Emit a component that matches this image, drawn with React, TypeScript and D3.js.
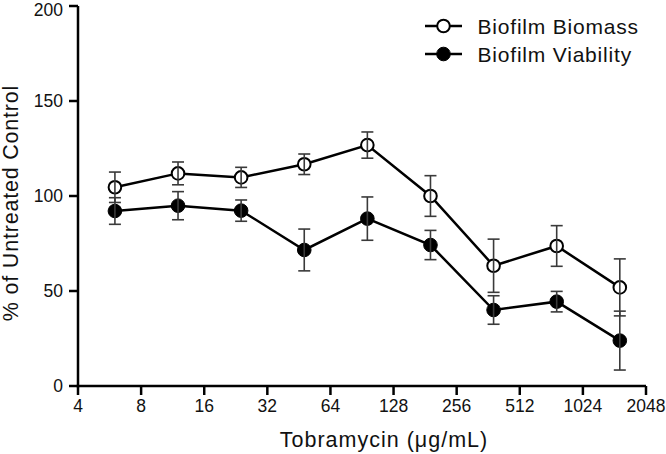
import React from "react";
import * as d3 from "d3";

const concentrations = [6, 12, 24, 48, 96, 192, 384, 768, 1536];
const biomass = [104.6, 111.9, 109.8, 116.7, 126.8, 100, 63.3, 73.7, 51.9];
const biomassErr = [8, 6, 5.3, 5.4, 6.9, 10.7, 14, 10.7, 15];
const viability = [92.1, 94.9, 92.3, 71.6, 88.1, 74.2, 40, 44.4, 23.9];
const viabilityErr = [7, 7.4, 5.6, 11, 11.4, 7.7, 7.5, 5.4, 15.5];
const xTicks = [4, 8, 16, 32, 64, 128, 256, 512, 1024, 2048];
const yTicks = [0, 50, 100, 150, 200];
const seriesNames = ["Biofilm Biomass", "Biofilm Viability"];

const W = 666;
const H = 454;
const FONT = "'Liberation Sans', Arial, Helvetica, sans-serif";

export default function App() {
  const x = d3.scaleLog().base(2).domain([4, 2048]).range([78, 646]);
  const y = d3.scaleLinear().domain([0, 200]).range([386, 6]);
  const line = d3
    .line<[number, number]>()
    .x((d) => x(d[0]))
    .y((d) => y(d[1]));

  const series = [
    { name: seriesNames[0], values: biomass, err: biomassErr, filled: false },
    { name: seriesNames[1], values: viability, err: viabilityErr, filled: true },
  ];

  const x0 = x.range()[0];
  const x1 = x.range()[1];
  const y0 = y.range()[0];
  const y1 = y.range()[1];

  return (
    <svg
      width={W}
      height={H}
      style={{ position: "absolute", left: 0, top: 0, background: "#fff" }}
      fontFamily={FONT}
    >
      <rect x={0} y={0} width={W} height={H} fill="#fff" />
      {series.map((s) => (
        <path
          key={"l" + s.name}
          d={line(concentrations.map((c, i) => [c, s.values[i]]) as [number, number][]) || ""}
          fill="none"
          stroke="#000"
          strokeWidth={2.5}
        />
      ))}
      {series.map((s) =>
        concentrations.map((c, i) => (
          <circle
            key={"m" + s.name + i}
            cx={x(c)}
            cy={y(s.values[i])}
            r={s.filled ? 6.8 : 6.3}
            fill={s.filled ? "#000" : "#fff"}
            stroke="#000"
            strokeWidth={s.filled ? 1 : 2}
          />
        ))
      )}
      {series.map((s) =>
        concentrations.map((c, i) => {
          const cx = x(c);
          const top = y(s.values[i] + s.err[i]);
          const bot = y(s.values[i] - s.err[i]);
          return (
            <g key={"e" + s.name + i} stroke="#3a3a3a" strokeWidth={1.6}>
              <line x1={cx} x2={cx} y1={top} y2={bot} />
              <line x1={cx - 6} x2={cx + 6} y1={top} y2={top} />
              <line x1={cx - 6} x2={cx + 6} y1={bot} y2={bot} />
            </g>
          );
        })
      )}
      <line x1={x0} x2={x0} y1={y1} y2={y0 + 1.25} stroke="#000" strokeWidth={2.5} />
      <line x1={x0 - 1.25} x2={x1} y1={y0} y2={y0} stroke="#000" strokeWidth={2.5} />
      {yTicks.map((t) => (
        <g key={"yt" + t}>
          <line x1={x0 - 9} x2={x0} y1={y(t)} y2={y(t)} stroke="#000" strokeWidth={2.5} />
          <text
            x={x0 - 15}
            y={t === 200 ? y(t) + 3.5 : y(t)}
            dy="0.36em"
            textAnchor="end"
            fontSize={17.5}
            fill="#111"
          >
            {t}
          </text>
        </g>
      ))}
      {xTicks.map((t) => (
        <g key={"xt" + t}>
          <line x1={x(t)} x2={x(t)} y1={y0} y2={y0 + 9} stroke="#000" strokeWidth={2.5} />
          <text x={x(t)} y={412} textAnchor="middle" fontSize={17.5} fill="#111">
            {t}
          </text>
        </g>
      ))}
      <text
        x={384}
        y={446.5}
        textAnchor="middle"
        fontSize={21.5}
        letterSpacing={1}
        fill="#111"
      >
        Tobramycin (μg/mL)
      </text>
      <text
        transform={`translate(17.5,${203}) rotate(-90)`}
        textAnchor="middle"
        fontSize={21.5}
        letterSpacing={0.8}
        fill="#111"
      >
        % of Untreated Control
      </text>
      {series.map((s, i) => {
        const ly = 26 + i * 28;
        return (
          <g key={"lg" + s.name}>
            <line x1={425} x2={462} y1={ly} y2={ly} stroke="#000" strokeWidth={2.5} />
            <circle
              cx={443.5}
              cy={ly}
              r={s.filled ? 6.8 : 6.3}
              fill={s.filled ? "#000" : "#fff"}
              stroke="#000"
              strokeWidth={s.filled ? 1 : 2}
            />
            <text x={477.5} y={ly} dy="0.36em" fontSize={21} letterSpacing={0.8} fill="#111">
              {s.name}
            </text>
          </g>
        );
      })}
    </svg>
  );
}
